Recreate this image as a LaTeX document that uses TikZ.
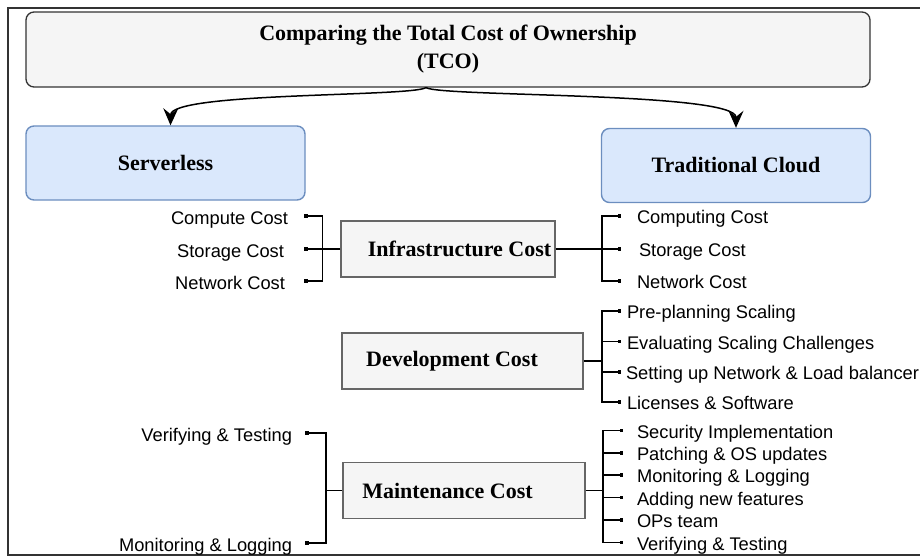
\documentclass[tikz,border=0pt]{standalone}
\usepackage{fontspec}
\setmainfont{Liberation Serif}
\setsansfont{Liberation Sans}
\usepackage{tikz}
\usetikzlibrary{arrows.meta}
\usetikzlibrary{calc}
\definecolor{greyfill}{HTML}{F5F5F5}
\definecolor{greyline}{HTML}{666666}
\definecolor{darkline}{HTML}{333333}
\definecolor{bluefill}{HTML}{DAE8FC}
\definecolor{blueline}{HTML}{6C8EBF}
\tikzset{
  titlebox/.style={draw=darkline, fill=greyfill, line width=1.3pt, rounded corners=8pt,
    minimum width=844pt, minimum height=75pt, align=center,
    font=\fontsize{22}{28}\selectfont\bfseries},
  sidebox/.style={draw=blueline, fill=bluefill, line width=1.4pt, rounded corners=8pt,
    minimum width=#1, minimum height=74pt, font=\fontsize{22}{26}\selectfont\bfseries},
  costbox/.style={draw=greyline, fill=greyfill, line width=1.3pt, minimum width=#1,
    minimum height=56pt},
  costtext/.style={inner sep=0pt, font=\fontsize{22}{26}\selectfont\bfseries},
  litem/.style={anchor=east, inner sep=0pt, outer xsep=#1, text height=16pt, text depth=0pt,
    font=\sffamily\fontsize{18.3}{22}\selectfont},
  ritem/.style={anchor=west, inner sep=0pt, outer xsep=#1, text height=15pt, text depth=0pt,
    font=\sffamily\fontsize{18.3}{22}\selectfont},
  wire/.style={draw, line width=1.3pt},
  dotend/.style={wire, -{Square[length=3.5pt,width=3.5pt]}},
  split/.style={draw, line width=1.5pt, -{Stealth[length=17pt,width=15pt,inset=6pt]}}
}

\begin{document}
\begin{tikzpicture}[x=1pt, y=-1pt]
  \useasboundingbox (0,0) rectangle (920,556);
  \draw[line width=1.5pt, color=darkline] (921,8) -- (8,8) -- (8,555) -- (921,555);

  \node[titlebox] (tco) at (448,49.5) {Comparing the Total Cost of Ownership\\(TCO)};
  \node[sidebox=279pt] (srv) at (165.5,163) {Serverless};
  \node[sidebox=269pt] (trad) at (736,165.5) {Traditional Cloud};

  % split from the title to both sides
  \coordinate (src) at ([xshift=-22pt]tco.south);
  \draw[split] (src) .. controls (410,97) and (171,92) .. ([xshift=5pt]srv.north);
  \draw[split] (src) .. controls (442,97) and (736,92) .. (trad.north);

  % cost boxes
  \node[costbox=214pt] (infra) at (448,249) {};
  \node[costtext] at ($(infra)+(11.5,0)$) {Infrastructure Cost};
  \node[costbox=241pt] (dev) at (462.5,361) {};
  \node[costtext] at ($(dev)+(-10.5,0)$) {Development Cost};
  \node[costbox=242pt] (mnt) at (464,490.5) {};
  \node[costtext] at ($(mnt)+(-16.5,0)$) {Maintenance Cost};

  % infrastructure, serverless side
  \node[litem=16pt] (icomp) at (304,216) {Compute Cost};
  \node[litem=20pt] (istor) at (304,249) {Storage Cost};
  \node[litem=19pt] (inet) at (304,281) {Network Cost};
  \coordinate (infraL) at (322.5,249);
  \draw[dotend] (infraL) |- (icomp.east);
  \draw[dotend] (infra.west) -- (istor.east);
  \draw[dotend] (infraL) |- (inet.east);

  % infrastructure, cloud side
  \node[ritem=16pt] (ccomp) at (621,216) {Computing Cost};
  \node[ritem=18pt] (cstor) at (621,249) {Storage Cost};
  \node[ritem=16pt] (cnet) at (621,281) {Network Cost};
  \coordinate (infraR) at (602,249);
  \draw[dotend] (infraR) |- (ccomp.west);
  \draw[dotend] (infra.east) -- (cstor.west);
  \draw[dotend] (infraR) |- (cnet.west);

  % development, cloud side
  \node[ritem=6pt] (dplan) at (621,311) {Pre-planning Scaling};
  \node[ritem=6pt] (deval) at (621,341.5) {Evaluating Scaling Challenges};
  \node[ritem=5pt] (dnet) at (621,372) {Setting up Network \& Load balancer};
  \node[ritem=6pt] (dlic) at (621,402) {Licenses \& Software};
  \coordinate (devR) at (602,361);
  \draw[wire] (dev.east) -- (devR);
  \draw[dotend] (devR) |- (dplan.west);
  \draw[dotend] (devR) |- (deval.west);
  \draw[dotend] (devR) |- (dnet.west);
  \draw[dotend] (devR) |- (dlic.west);

  % maintenance, serverless side
  \node[litem=13pt] (mver) at (305,433) {Verifying \& Testing};
  \node[litem=13pt] (mmon) at (305,543) {Monitoring \& Logging};
  \coordinate (mntL) at (326,490.5);
  \draw[wire] (mnt.west) -- (mntL);
  \draw[dotend] (mntL) |- (mver.east);
  \draw[dotend] (mntL) |- (mmon.east);

  % maintenance, cloud side
  \node[ritem=14pt] (csec) at (623,430.5) {Security Implementation};
  \node[ritem=14pt] (cpat) at (623,453) {Patching \& OS updates};
  \node[ritem=14pt] (cmon) at (623,475) {Monitoring \& Logging};
  \node[ritem=14pt] (cadd) at (623,497.5) {Adding new features};
  \node[ritem=14pt] (cops) at (623,520) {OPs team};
  \node[ritem=14pt] (cver) at (623,542.5) {Verifying \& Testing};
  \coordinate (mntR) at (603,490.5);
  \draw[wire] (mnt.east) -- (mntR);
  \draw[dotend] (mntR) |- (csec.west);
  \draw[dotend] (mntR) |- (cpat.west);
  \draw[dotend] (mntR) |- (cmon.west);
  \draw[dotend] (mntR) |- (cadd.west);
  \draw[dotend] (mntR) |- (cops.west);
  \draw[dotend] (mntR) |- (cver.west);
\end{tikzpicture}
\end{document}
